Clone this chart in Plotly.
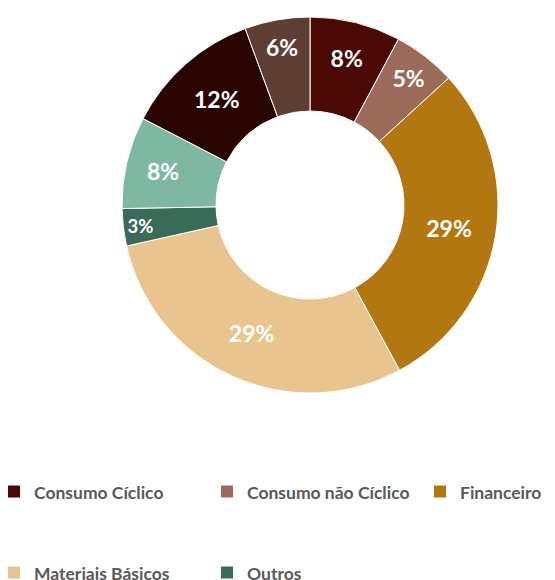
import plotly.graph_objects as go

# Data
categories = ["Consumo Cíclico", "Consumo não Cíclico", "Financeiro", "Materiais Básicos",
              "Outros", "Petróleo, Gás e Biocombustíveis", "Saúde", "Utilidade Pública"]
values = [7.8, 5.4, 28.9, 29.4, 3.2, 7.9, 11.8, 5.6]
colors = ["#4a0904", "#9b6a58", "#b37712", "#e9c48e", "#3a6b56", "#7fb8a2", "#2a0400", "#5e3e33"]
legend_count = 5   # the reference legend lists only the first five sectors

# figure is larger than the 555x580 view; the view shows its top-left part
W, H = 700, 720
LEG_TOP = 464          # legend top (px from figure top); plot area ends there
cx, cy, R = 302, 197, 188

fig = go.Figure()

# main donut (all slices)
fig.add_trace(go.Pie(
    labels=categories,
    values=values,
    hole=0.5,
    sort=False,
    direction="clockwise",
    rotation=0,
    marker=dict(colors=colors, line=dict(color="white", width=1)),
    textinfo="percent",
    texttemplate="%{percent:.0%}",
    textposition="inside",
    insidetextorientation="horizontal",
    textfont=dict(family="Lato", size=23, color="white", weight="bold"),
    domain=dict(x=[(cx - R) / W, (cx + R) / W],
                y=[1 - (cy + R) / LEG_TOP, 1 - (cy - R) / LEG_TOP]),
    showlegend=False,
))

# legend carrier (placed outside the visible view), first five sectors only
legend_labels = ["<span style='font-size:17.5px'>" + c + "</span><br> <br> "
                 for c in categories[:legend_count]]
fig.add_trace(go.Pie(
    labels=legend_labels,
    values=values[:legend_count],
    sort=False,
    marker=dict(colors=colors[:legend_count]),
    textinfo="none",
    hoverinfo="skip",
    domain=dict(x=[0.84, 0.99], y=[0.02, 0.2]),
    showlegend=True,
))

fig.update_layout(
    width=W, height=H,
    margin=dict(l=0, r=0, t=0, b=H - LEG_TOP, autoexpand=False),
    paper_bgcolor="white",
    plot_bgcolor="white",
    legend=dict(
        orientation="h",
        xref="paper", yref="paper",
        x=-14 / W, y=0,
        xanchor="left", yanchor="top",
        entrywidthmode="pixels", entrywidth=168,
        itemwidth=30,
        valign="top",
        font=dict(family="Lato", size=20, color="#595959", weight="bold"),
    ),
)

fig.write_html("out.html")
